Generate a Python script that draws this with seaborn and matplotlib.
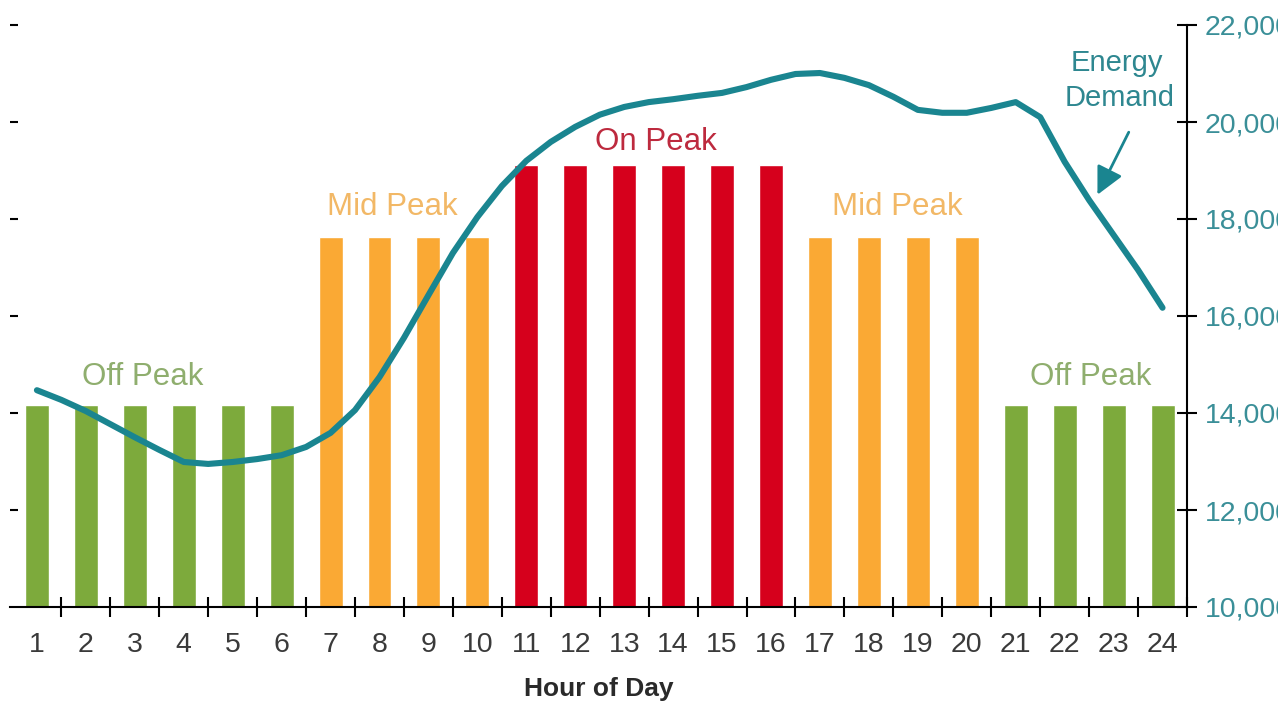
import matplotlib
matplotlib.use("Agg")
import matplotlib.pyplot as plt
from matplotlib import font_manager
import numpy as np
import pandas as pd
import seaborn as sns

# ---- data -------------------------------------------------------------
hours = list(range(1, 25))
tiers = (["Off Peak"] * 6 + ["Mid Peak"] * 4 + ["On Peak"] * 6 +
         ["Mid Peak"] * 4 + ["Off Peak"] * 4)
tier_level = {"Off Peak": 4.16, "Mid Peak": 7.62, "On Peak": 9.11}

# energy demand sampled every half hour (MW)
demand_hours = [1, 1.5, 2, 2.5, 3, 3.5, 4, 4.5, 5, 5.5, 6, 6.5, 7, 7.5, 8, 8.5,
                9, 9.5, 10, 10.5, 11, 11.5, 12, 12.5, 13, 13.5, 14, 14.5, 15,
                15.5, 16, 16.5, 17, 17.5, 18, 18.5, 19, 19.5, 20, 20.5, 21,
                21.5, 22, 22.5, 23, 23.5, 24]
demand = [14470, 14270, 14040, 13770, 13500, 13240, 12990, 12950, 12990,
          13050, 13130, 13300, 13590, 14060, 14740, 15550, 16430, 17300,
          18040, 18680, 19200, 19590, 19900, 20150, 20310, 20410, 20470,
          20540, 20600, 20720, 20870, 20990, 21010, 20910, 20760, 20520,
          20250, 20190, 20190, 20290, 20410, 20100, 19180, 18390, 17670,
          16950, 16170]

demand_ticks = [10000, 12000, 14000, 16000, 18000, 20000, 22000]

# ---- style ------------------------------------------------------------
sns.set_theme(style="white")
available = {f.name for f in font_manager.fontManager.ttflist}


def pick(*names):
    for n in names:
        if n in available:
            return n
    return "DejaVu Sans"


base_font = pick("Liberation Sans", "Arimo", "DejaVu Sans")
tick_font = pick("Liberation Sans Narrow", "Liberation Sans", "DejaVu Sans")
plt.rcParams["font.family"] = [base_font, "DejaVu Sans"]

tier_colors = {"Off Peak": "#7DAA3C", "Mid Peak": "#FAA934", "On Peak": "#D6001C"}
label_colors = {"Off Peak": "#8FAE6E", "Mid Peak": "#F2B866", "On Peak": "#BD2A3E"}
teal = "#1A8590"

bars = pd.DataFrame({"hour": hours, "tier": tiers})
bars["level"] = bars["tier"].map(tier_level)

W, H = 1278, 704
fig = plt.figure(figsize=(W / 100, H / 100), dpi=100)
ax = fig.add_axes([10 / W, (H - 607) / H, (1187 - 10) / W, (607 - 25) / H])

sns.barplot(data=bars, x="hour", y="level", hue="tier", palette=tier_colors,
            native_scale=True, width=0.49, dodge=False, legend=False,
            saturation=1, ax=ax)

ax.set_xlim(0.45, 24.5)
ax.set_ylim(0, 12)
ax.set_xticks(hours)
ax.set_xticklabels([str(h) for h in hours], fontsize=20.5, color="#3A3A3A",
                   family=[tick_font, "DejaVu Sans"])
ax.set_xticks([h + 0.5 for h in hours], minor=True)
ax.tick_params(axis="x", which="major", length=0, pad=18)
ax.tick_params(axis="x", which="minor", direction="inout", length=14,
               width=1.5, color="black", bottom=True)
ax.set_yticks([2, 4, 6, 8, 10, 12])
ax.set_yticklabels([])
ax.tick_params(axis="y", direction="in", length=6, width=1.5, left=True,
               color="black")
for side in ("top", "right", "left"):
    ax.spines[side].set_visible(False)
ax.spines["bottom"].set_color("black")
ax.spines["bottom"].set_linewidth(1.5)
ax.set_ylabel("")
ax.set_xlabel("Hour of Day", fontsize=19, fontweight="bold", color="#2A2A2A",
              labelpad=14)

# tier labels
tier_text = [("Off Peak", 3.17, 4.58), ("Mid Peak", 8.26, 8.08),
             ("On Peak", 13.64, 9.42), ("Mid Peak", 18.59, 8.08),
             ("Off Peak", 22.53, 4.58)]
for name, x, y in tier_text:
    ax.text(x, y, name, ha="center", va="baseline", fontsize=22.5,
            color=label_colors[name])

# ---- demand axis ------------------------------------------------------
ax2 = ax.twinx()
sns.lineplot(x=demand_hours, y=demand, color=teal, linewidth=4.4, ax=ax2,
             solid_capstyle="round", solid_joinstyle="round")
ax2.set_ylim(10000, 22000)
ax2.set_xlim(0.45, 24.5)
ax2.set_yticks(demand_ticks)
ax2.set_yticklabels([f"{v:,}" for v in demand_ticks], fontsize=20.5,
                    color="#3A8F98", family=[tick_font, "DejaVu Sans"])
ax2.tick_params(axis="y", direction="inout", length=14, width=1.5,
                color="black", pad=6, right=True)
for side in ("top", "left", "bottom"):
    ax2.spines[side].set_visible(False)
ax2.spines["right"].set_color("black")
ax2.spines["right"].set_linewidth(1.5)
ax2.set_ylabel("")

ax2.text(23.07, 21050, "Energy", ha="center", va="baseline", fontsize=21,
         color="#2E8790")
ax2.text(23.12, 20330, "Demand", ha="center", va="baseline", fontsize=21,
         color="#2E8790")
ax2.annotate("", xy=(22.67, 18500), xytext=(23.31, 19790),
             arrowprops=dict(arrowstyle="-|>,head_length=1.4,head_width=0.7",
                             color=teal, lw=2, shrinkA=0, shrinkB=0))

fig.savefig("out.png", dpi=100)
